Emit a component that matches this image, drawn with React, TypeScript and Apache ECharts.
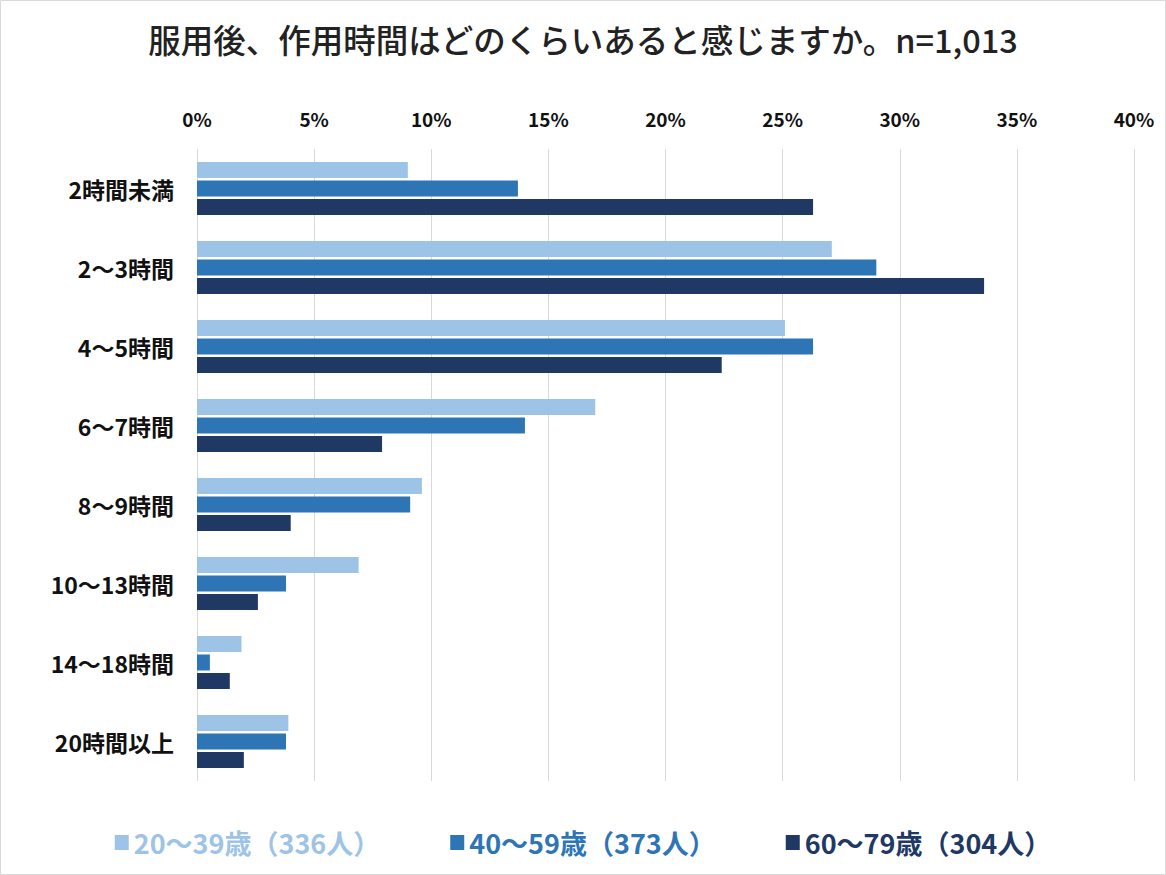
import React, { useEffect, useRef } from "react";
import * as echarts from "echarts";

const categories = ["2時間未満", "2〜3時間", "4〜5時間", "6〜7時間", "8〜9時間", "10〜13時間", "14〜18時間", "20時間以上"];
const seriesNames = ["20〜39歳（336人）", "40〜59歳（373人）", "60〜79歳（304人）"];
const young = [9.0, 27.1, 25.1, 17.0, 9.6, 6.9, 1.9, 3.9];
const middle = [13.7, 29.0, 26.3, 14.0, 9.1, 3.8, 0.55, 3.8];
const senior = [26.3, 33.6, 22.4, 7.9, 4.0, 2.6, 1.4, 2.0];
const colors = ["#9DC3E6", "#2E75B6", "#203864"];
const xTicks = { min: 0, max: 40, interval: 5 };

export default function App() {
  const ref = useRef<HTMLDivElement>(null);
  useEffect(() => {
    document.body.style.margin = "0";
    const chart = echarts.init(ref.current!, null, { renderer: "svg" });
    const font = "'Noto Sans CJK JP', 'Noto Sans', sans-serif";
    const values = [young, middle, senior];
    chart.setOption({
      animation: false,
      backgroundColor: "#ffffff",
      textStyle: { fontFamily: font },
      title: {
        text: "服用後、作用時間はどのくらいあると感じますか。n=1,013",
        left: "center",
        top: 17,
        textStyle: { fontSize: 32.5, fontWeight: 500, color: "#222222", fontFamily: font },
      },
      grid: { left: 197, right: 32, top: 149, bottom: 94, containLabel: false },
      xAxis: {
        type: "value",
        position: "top",
        min: xTicks.min,
        max: xTicks.max,
        interval: xTicks.interval,
        axisLine: { show: false },
        axisTick: { show: false },
        splitLine: { show: true, lineStyle: { color: "#d9d9d9", width: 1 } },
        axisLabel: {
          formatter: "{value}%",
          fontSize: 19,
          fontWeight: "bold",
          color: "#111111",
          margin: 21,
          fontFamily: font,
        },
      },
      yAxis: {
        type: "category",
        inverse: true,
        data: categories,
        axisLine: { show: false },
        axisTick: { show: false },
        splitLine: { show: false },
        axisLabel: {
          fontSize: 23,
          fontWeight: "bold",
          color: "#111111",
          margin: 23,
          fontFamily: font,
        },
      },
      legend: {
        bottom: 14,
        left: "center",
        itemWidth: 14,
        itemHeight: 15,
        itemGap: 70,
        icon: "rect",
        data: seriesNames.map((n, i) => ({
          name: n,
          textStyle: { color: colors[i] },
        })),
        textStyle: { fontSize: 27, fontWeight: "bold", fontFamily: font },
      },
      graphic: [
        {
          type: "rect",
          shape: { x: 0.5, y: 0.5, width: 1165, height: 874 },
          style: { fill: "none", stroke: "#d9d9d9", lineWidth: 1 },
          silent: true,
        },
      ],
      series: seriesNames.map((n, i) => ({
        name: n,
        type: "bar",
        data: values[i],
        barWidth: 16,
        barGap: "15%",
        itemStyle: { color: colors[i] },
      })),
    });
    return () => chart.dispose();
  }, []);
  return (
    <div
      ref={ref}
      style={{ position: "absolute", left: 0, top: 0, width: 1166, height: 875 }}
    />
  );
}
